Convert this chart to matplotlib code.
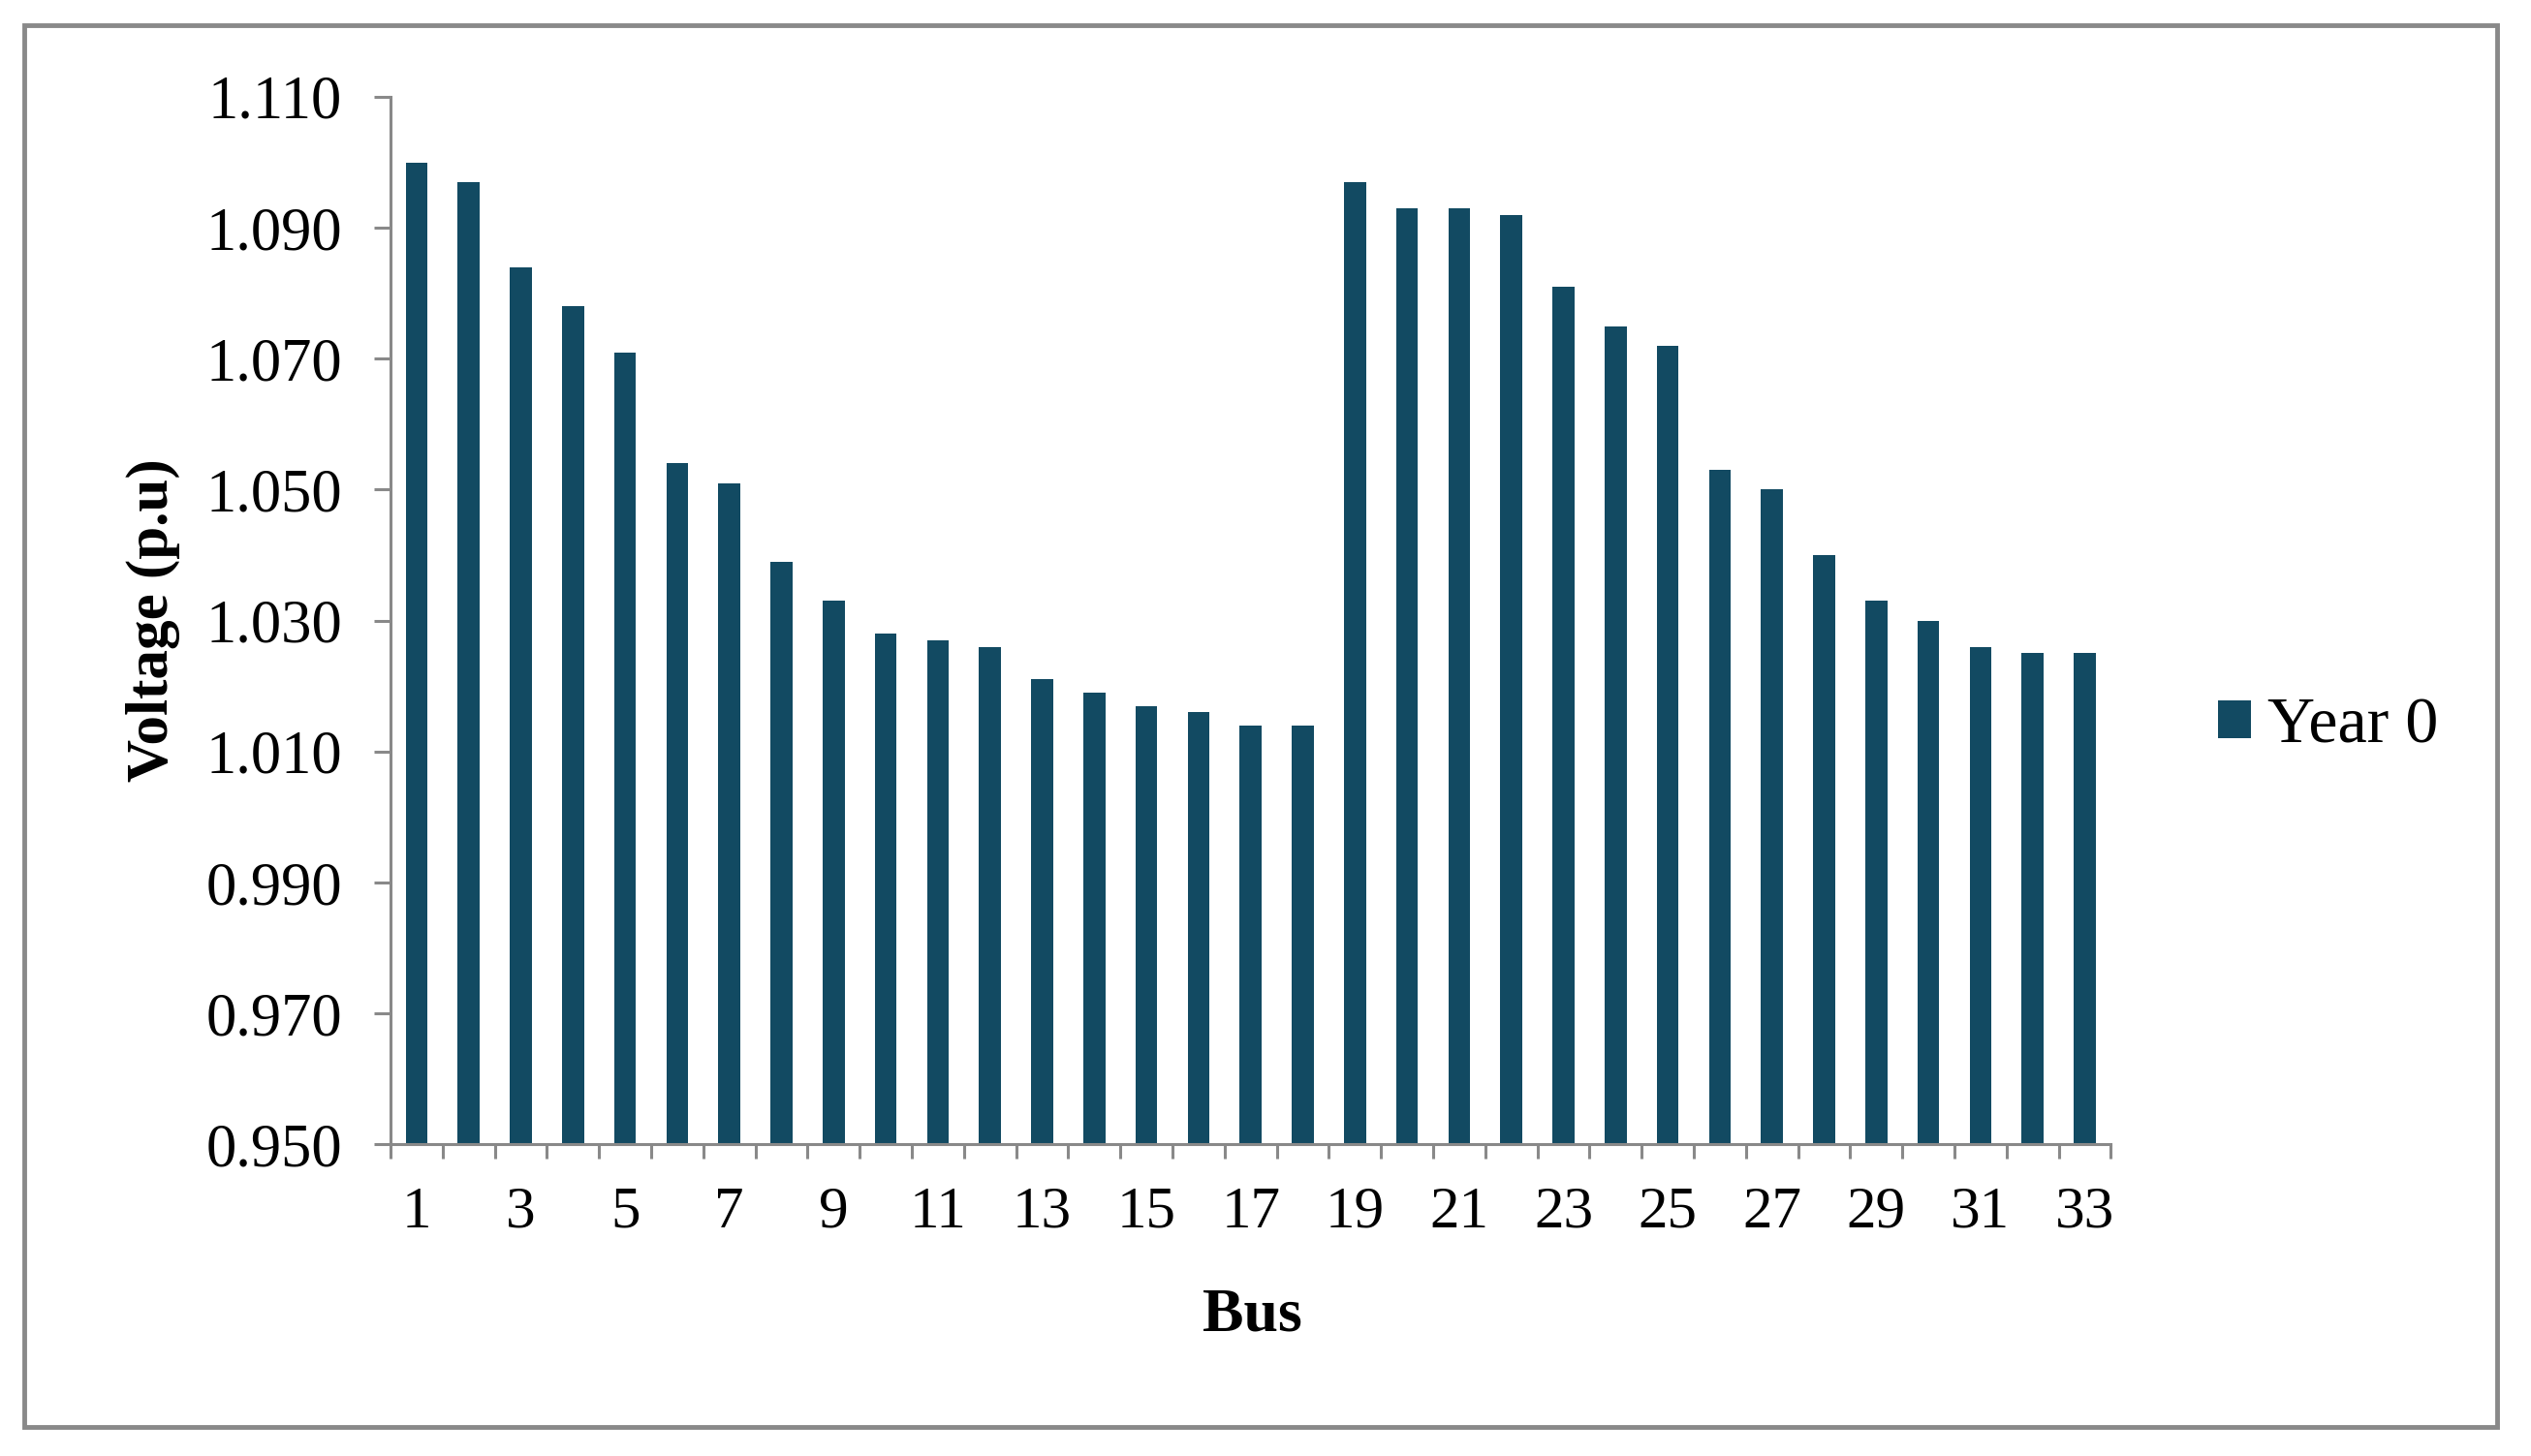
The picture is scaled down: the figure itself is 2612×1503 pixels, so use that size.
import numpy as np
import matplotlib
matplotlib.use('Agg')
from matplotlib import pyplot as plt
from matplotlib.patches import Rectangle

# bus voltages, year 0
buses = list(range(1, 34))
voltage = [1.100, 1.097, 1.084, 1.078, 1.071, 1.054, 1.051, 1.039, 1.033, 1.028,
           1.027, 1.026, 1.021, 1.019, 1.017, 1.016, 1.014, 1.014, 1.097, 1.093,
           1.093, 1.092, 1.081, 1.075, 1.072, 1.053, 1.050, 1.040, 1.033, 1.030,
           1.026, 1.025, 1.025]
series_name = 'Year 0'
y_ticks = [0.950, 0.970, 0.990, 1.010, 1.030, 1.050, 1.070, 1.090, 1.110]

bar_color = '#124A62'
axis_color = '#898989'
plt.rcParams['font.family'] = ['Liberation Serif', 'DejaVu Serif']

fig = plt.figure(figsize=(26.12, 15.03), dpi=100)
ax = fig.add_axes([0.1543, 0.214, 0.6797, 0.7195])

ax.bar(buses, voltage, width=0.42, color=bar_color, label=series_name, zorder=2)

ax.set_ylim(0.950, 1.110)
ax.set_xlim(0.5, 33.5)
ax.set_yticks(y_ticks)
ax.set_yticklabels(['%.3f' % v for v in y_ticks])

# excel style: tick marks between categories, labels every other bus
ax.set_xticks(np.arange(0.5, 34, 1.0))
ax.set_xticklabels([])
ax.set_xticks(buses[::2], minor=True)
ax.set_xticklabels([str(b) for b in buses[::2]], minor=True)
ax.tick_params(axis='x', which='major', length=11, width=2.2, color=axis_color, direction='out')
ax.tick_params(axis='x', which='minor', length=0, pad=31, labelsize=44)
ax.tick_params(axis='y', length=12, width=2.2, color=axis_color, direction='out', pad=24, labelsize=45)

for s in ['top', 'right']:
    ax.spines[s].set_visible(False)
for s in ['left', 'bottom']:
    ax.spines[s].set_color(axis_color)
    ax.spines[s].set_linewidth(2.2)

ax.set_xlabel('Bus', fontsize=46, fontweight='bold')
ax.xaxis.set_label_coords(0.501, -0.137)
ax.set_ylabel('Voltage (p.u)', fontsize=44, fontweight='bold')
ax.yaxis.set_label_coords(-0.122, 0.5)

fig.legend(loc='center left', bbox_to_anchor=(0.853, 0.501), frameon=False,
           fontsize=49, handlelength=0.5, handleheight=0.5, handletextpad=0.25)

# outer chart border
fig.patches.append(Rectangle((0.0096, 0.02), 0.977, 0.963, transform=fig.transFigure,
                             fill=False, edgecolor=axis_color, linewidth=3.5))

plt.savefig('out.png', dpi=100)
